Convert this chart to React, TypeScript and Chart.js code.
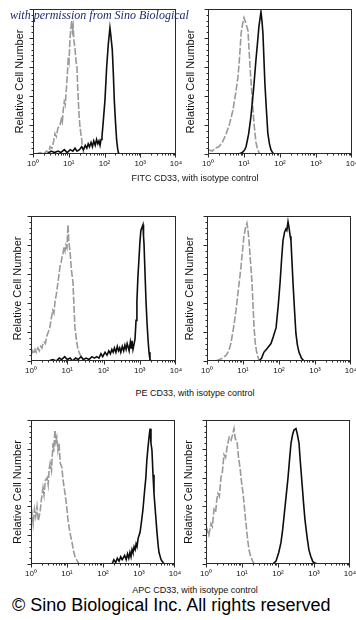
import React, { useEffect, useRef } from 'react';
import { Chart, registerables } from 'chart.js';
Chart.register(...registerables);

type P = [number, number];

// ---------- texts ----------
const watermarkText = 'with permission from Sino Biological';
const copyrightText = '© Sino Biological Inc. All rights reserved';
const yAxisTitle = 'Relative Cell Number';
const captions = [
  'FITC CD33, with isotype control',
  'PE CD33, with isotype control',
  'APC CD33, with isotype control',
];

// ---------- axis ticks ----------
const xTickValues = [1, 10, 100, 1000, 10000];
const xTickLabels = ['10⁰', '10¹', '10²', '10³', '10⁴'];
const yMin = 0;
const yMax = 100;

// ---------- data: [fluorescence intensity, relative count %] ----------
const fitcLeftIsotype: P[] = [
  [1.2, 0], [1.6, 1], [2.0, 0], [2.4, 2], [2.8, 1], [3.0, 5], [3.4, 4], [3.8, 9], [4.1, 14], [4.5, 12],
  [5.0, 18], [5.7, 20], [6.2, 24], [6.6, 22], [7.0, 30], [7.5, 36], [8.0, 34], [8.8, 49], [9.3, 58],
  [9.7, 67], [10.2, 64], [10.8, 79], [11.4, 86], [12.1, 92], [12.7, 85], [13.3, 88], [14.0, 78],
  [15.0, 72], [16.0, 64], [17.0, 60], [17.8, 46], [18.5, 37], [19.5, 26], [20.6, 19], [21.8, 14],
  [23, 10], [24, 5], [25, 3], [26.5, 0],
];
const fitcLeftCD33: P[] = [
  [2.5, 0], [3.2, 2], [4, 1], [5, 2], [6, 1], [7.5, 3], [9, 1], [11, 3], [13, 2], [15, 4], [17, 2],
  [20, 3], [23, 5], [26, 3], [29, 6], [32, 4], [35, 7], [38, 5], [42, 8], [46, 5], [50, 9], [55, 6],
  [60, 10], [65, 7], [70, 9], [75, 6], [80, 10], [85, 12], [92, 22], [103, 37], [115, 60], [128, 76],
  [142, 87], [150, 82], [165, 72], [177, 55], [188, 37], [203, 22], [218, 10], [232, 4], [244, 1], [260, 0],
];
const fitcRightIsotype: P[] = [
  [1.0, 3], [1.3, 2], [1.6, 4], [2.0, 5], [2.5, 8], [3.2, 14], [4.0, 21], [4.9, 30], [5.8, 41], [6.8, 53],
  [7.6, 68], [8.3, 83], [9.2, 90], [10, 94], [11, 91], [12.9, 85], [14.7, 60], [16.2, 45], [17.8, 30],
  [19.5, 18], [21.5, 8], [23.5, 4], [26, 1], [28, 0],
];
const fitcRightCD33: P[] = [
  [7.2, 0], [9, 1], [10.5, 3], [11.4, 5], [13.5, 14], [15.6, 26], [18.5, 45], [21.5, 65], [24, 78],
  [26, 88], [29.6, 98], [31.5, 92], [33.6, 83], [38, 49], [42, 30], [46, 14], [51, 7], [56, 3], [62, 1], [68, 0],
];
const peLeftIsotype: P[] = [
  [1.0, 4], [1.1, 7], [1.2, 5], [1.3, 8], [1.4, 6], [1.55, 9], [1.7, 7], [1.85, 10], [2.0, 9], [2.1, 11],
  [2.3, 13], [2.5, 12], [2.7, 17], [3.0, 20], [3.3, 23], [3.6, 29], [4.0, 35], [4.3, 33], [4.6, 41],
  [5.0, 46], [5.4, 52], [5.8, 58], [6.3, 65], [6.8, 68], [7.2, 72], [7.6, 74], [8.2, 79], [8.7, 76],
  [9.2, 80], [9.8, 78], [10.5, 94], [11.0, 82], [11.9, 76], [13.0, 63], [14.4, 54], [15.3, 38],
  [16.3, 23], [18, 14], [19.8, 8], [22, 5], [25.5, 2], [28, 0],
];
const peLeftCD33: P[] = [
  [3, 0], [4, 1], [5, 0], [6, 2], [7, 1], [8.5, 3], [10, 1], [12, 2], [14, 0], [17, 2], [20, 1], [24, 3],
  [28, 1], [33, 2], [40, 1], [48, 3], [56, 2], [65, 3], [75, 2], [85, 5], [95, 3], [110, 6], [125, 4],
  [140, 7], [155, 5], [170, 8], [185, 6], [200, 9], [220, 6], [240, 10], [260, 7], [280, 9], [300, 6],
  [330, 10], [360, 7], [390, 11], [420, 8], [450, 12], [475, 10], [510, 7], [550, 13], [580, 9],
  [610, 14], [650, 8], [700, 12], [740, 15], [790, 28], [835, 41], [890, 58], [950, 70], [1010, 82],
  [1075, 90], [1150, 92], [1230, 94], [1270, 86], [1310, 81], [1400, 60], [1490, 41], [1590, 26],
  [1690, 15], [1800, 6], [1915, 1], [2050, 0],
];
const peRightIsotype: P[] = [
  [1.78, 0], [2.2, 1], [2.7, 2], [3.4, 4], [4.0, 7], [4.6, 12], [5.4, 22], [6.4, 35], [7.5, 50],
  [8.8, 65], [9.7, 76], [10.6, 86], [11.8, 92], [12.9, 95], [13.8, 90], [14.7, 83], [16.2, 68],
  [17.8, 54], [19, 38], [20.3, 23], [22, 12], [24, 6], [26, 3], [27.8, 0],
];
const peRightCD33: P[] = [
  [28, 0], [33, 2], [38, 6], [48, 9], [60, 12], [70, 17], [83, 23], [95, 38], [107, 54], [118, 70],
  [129, 83], [143, 89], [156, 91], [165, 90], [178, 96], [190, 92], [205, 86], [215, 83], [230, 68],
  [245, 54], [270, 35], [295, 19], [325, 11], [360, 6], [420, 2], [490, 0],
];
const apcLeftIsotype: P[] = [
  [1.0, 31], [1.07, 35], [1.15, 28], [1.25, 38], [1.35, 33], [1.47, 40], [1.6, 30], [1.78, 36],
  [1.95, 45], [2.15, 53], [2.3, 48], [2.5, 58], [2.8, 60], [3.0, 55], [3.2, 66], [3.4, 70], [3.7, 65],
  [4.1, 84], [4.3, 78], [4.6, 93], [4.9, 85], [5.2, 88], [5.6, 79], [6.0, 84], [6.5, 70], [7.2, 67],
  [7.8, 58], [8.8, 49], [9.6, 42], [10.6, 31], [12, 22], [13.8, 15], [15.2, 9], [16.7, 5], [18.5, 3],
  [20.3, 1], [22, 0],
];
const apcLeftCD33: P[] = [
  [178, 0], [200, 3], [225, 1], [250, 4], [280, 2], [310, 5], [340, 3], [360, 4], [400, 6], [440, 3],
  [480, 7], [520, 4], [560, 8], [600, 5], [640, 10], [680, 8], [730, 12], [780, 10], [830, 14],
  [880, 12], [950, 18], [1070, 22], [1180, 30], [1290, 38], [1420, 50], [1550, 60], [1650, 72],
  [1780, 81], [1900, 88], [2030, 94], [2150, 84], [2290, 79], [2450, 62], [2610, 49], [2900, 34],
  [3160, 22], [3400, 13], [3600, 8], [4100, 3], [4640, 1], [5000, 0],
];
const apcRightIsotype: P[] = [
  [1.0, 22], [1.07, 24], [1.2, 20], [1.38, 28], [1.5, 26], [1.67, 38], [1.85, 36], [2.0, 45], [2.15, 49],
  [2.35, 47], [2.6, 60], [2.85, 64], [3.16, 76], [3.5, 74], [3.9, 82], [4.4, 88], [5.0, 86], [5.6, 91],
  [6.0, 94], [6.5, 87], [7.3, 85], [8.0, 74], [8.8, 67], [9.7, 57], [10.7, 49], [11.8, 38], [12.9, 28],
  [14.2, 18], [15.6, 10], [17.5, 5], [20.3, 1.5], [22, 0],
];
const apcRightCD33: P[] = [
  [72, 0], [88, 2], [105, 8], [121, 15], [135, 24], [147, 33], [168, 47], [190, 60], [210, 73],
  [230, 84], [255, 90], [278, 93], [316, 94], [345, 90], [383, 84], [420, 70], [465, 56], [510, 43],
  [560, 31], [640, 19], [720, 10], [820, 5], [935, 1.5], [1100, 0.5], [1290, 0],
];

// ---------- layout (plot areas in page pixels) ----------
type Panel = { rect: [number, number, number, number]; iso: P[]; cd: P[]; titlePad: number };
const panels: Panel[] = [
  { rect: [33, 9, 176, 154], iso: fitcLeftIsotype, cd: fitcLeftCD33, titlePad: 4 },
  { rect: [208, 9, 352, 154], iso: fitcRightIsotype, cd: fitcRightCD33, titlePad: 0 },
  { rect: [31, 216, 176, 361], iso: peLeftIsotype, cd: peLeftCD33, titlePad: 4 },
  { rect: [207, 216, 351, 361], iso: peRightIsotype, cd: peRightCD33, titlePad: 0 },
  { rect: [31, 420, 175, 564], iso: apcLeftIsotype, cd: apcLeftCD33, titlePad: 4 },
  { rect: [206, 420, 350, 564], iso: apcRightIsotype, cd: apcRightCD33, titlePad: 0 },
];
const captionCentersY = [178, 393, 590];

const FONT = '"Liberation Sans", Arial, sans-serif';

const frameAndTicks = {
  id: 'frameAndTicks',
  afterDatasetsDraw(chart: any) {
    const { ctx, chartArea: a, scales } = chart;
    const xs = scales.x;
    const ys = scales.y;
    const L = Math.round(a.left) + 0.5;
    const R = Math.round(a.right) - 0.5;
    const T = Math.round(a.top) + 0.5;
    const B = Math.round(a.bottom) - 0.5;
    ctx.save();
    ctx.strokeStyle = '#2a2a2a';
    ctx.lineWidth = 1;
    ctx.strokeRect(L, T, R - L, B - T);
    ctx.beginPath();
    for (let v = yMin; v <= yMax; v += 4) {
      const py = Math.round(ys.getPixelForValue(v)) + 0.5;
      const len = v % 20 === 0 ? 4 : 2;
      ctx.moveTo(L, py);
      ctx.lineTo(L - len, py);
    }
    for (let d = 0; d < 4; d++) {
      for (let k = 1; k <= 9; k++) {
        const v = k * Math.pow(10, d);
        const px = Math.round(xs.getPixelForValue(v)) + 0.5;
        const len = k === 1 ? 4 : 2;
        ctx.moveTo(px, B);
        ctx.lineTo(px, B + len);
      }
    }
    const pxEnd = Math.round(xs.getPixelForValue(10000)) - 0.5;
    ctx.moveTo(pxEnd, B);
    ctx.lineTo(pxEnd, B + 4);
    ctx.stroke();
    ctx.restore();
  },
};

function Histogram({ panel }: { panel: Panel }) {
  const ref = useRef<HTMLCanvasElement>(null);
  const [x0, y0, x1, y1] = panel.rect;
  const W = 24;
  const H = 20;
  const PT = 2;
  const PR = 8;
  const width = x1 - x0 + W + PR;
  const height = y1 - y0 + PT + H;
  useEffect(() => {
    const chart = new Chart(ref.current as HTMLCanvasElement, {
      type: 'line',
      data: {
        datasets: [
          {
            data: panel.cd.map(([x, y]) => ({ x, y })),
            borderColor: '#0d0d0d',
            borderWidth: 1.6,
            pointRadius: 0,
            tension: 0,
            fill: false,
          },
          {
            data: panel.iso.map(([x, y]) => ({ x, y })),
            borderColor: '#9a9a9a',
            borderWidth: 1.6,
            borderDash: [7, 2],
            pointRadius: 0,
            tension: 0,
            fill: false,
          },
        ],
      },
      options: {
        responsive: false,
        animation: false,
        devicePixelRatio: 1,
        layout: { padding: { top: PT, right: PR, left: 0, bottom: 0 } },
        plugins: { legend: { display: false }, tooltip: { enabled: false } },
        scales: {
          x: {
            type: 'logarithmic',
            min: 1,
            max: 10000,
            afterBuildTicks: (s: any) => {
              s.ticks = xTickValues.map((v) => ({ value: v }));
            },
            afterFit: (s: any) => {
              s.height = H;
              s.paddingLeft = 0;
              s.paddingRight = 0;
            },
            grid: { display: false },
            border: { display: false },
            ticks: {
              autoSkip: false,
              maxRotation: 0,
              padding: -3,
              color: '#111',
              font: { family: FONT, size: 8 },
              callback: (v: any) => {
                const i = xTickValues.indexOf(Number(v));
                return i >= 0 ? xTickLabels[i] : '';
              },
            },
          },
          y: {
            type: 'linear',
            min: yMin,
            max: yMax,
            afterFit: (s: any) => {
              s.width = W;
            },
            grid: { display: false },
            border: { display: false },
            ticks: { display: false },
            title: {
              display: true,
              text: yAxisTitle,
              color: '#111',
              font: { family: FONT, size: 11 },
              padding: { top: panel.titlePad, bottom: 0 },
            },
          },
        },
      } as any,
      plugins: [frameAndTicks],
    });
    return () => chart.destroy();
  }, []);
  return (
    <canvas
      ref={ref}
      width={width}
      height={height}
      style={{ position: 'absolute', left: x0 - W, top: y0 - PT, width, height }}
    />
  );
}

export default function App() {
  return (
    <div
      style={{
        position: 'absolute',
        left: 0,
        top: 0,
        width: 356,
        height: 620,
        background: '#fff',
        overflow: 'hidden',
      }}
    >
      {panels.map((p, i) => (
        <Histogram key={i} panel={p} />
      ))}
      {captions.map((c, i) => (
        <div
          key={c}
          style={{
            position: 'absolute',
            left: 95,
            width: 200,
            top: captionCentersY[i] - 5,
            height: 10,
            lineHeight: '10px',
            textAlign: 'center',
            fontFamily: FONT,
            fontSize: 9,
            color: '#111',
            whiteSpace: 'nowrap',
          }}
        >
          {c}
        </div>
      ))}
      <div
        style={{
          position: 'absolute',
          left: 10,
          top: 6,
          height: 18,
          lineHeight: '18px',
          fontFamily: '"Liberation Serif", "DejaVu Serif", serif',
          fontStyle: 'italic',
          fontSize: 12,
          color: '#1c2b6e',
          whiteSpace: 'nowrap',
        }}
      >
        {watermarkText}
      </div>
      <div
        style={{
          position: 'absolute',
          left: 12,
          top: 595,
          height: 20,
          lineHeight: '20px',
          fontFamily: FONT,
          fontSize: 18,
          color: '#000',
          whiteSpace: 'nowrap',
        }}
      >
        {copyrightText}
      </div>
    </div>
  );
}
